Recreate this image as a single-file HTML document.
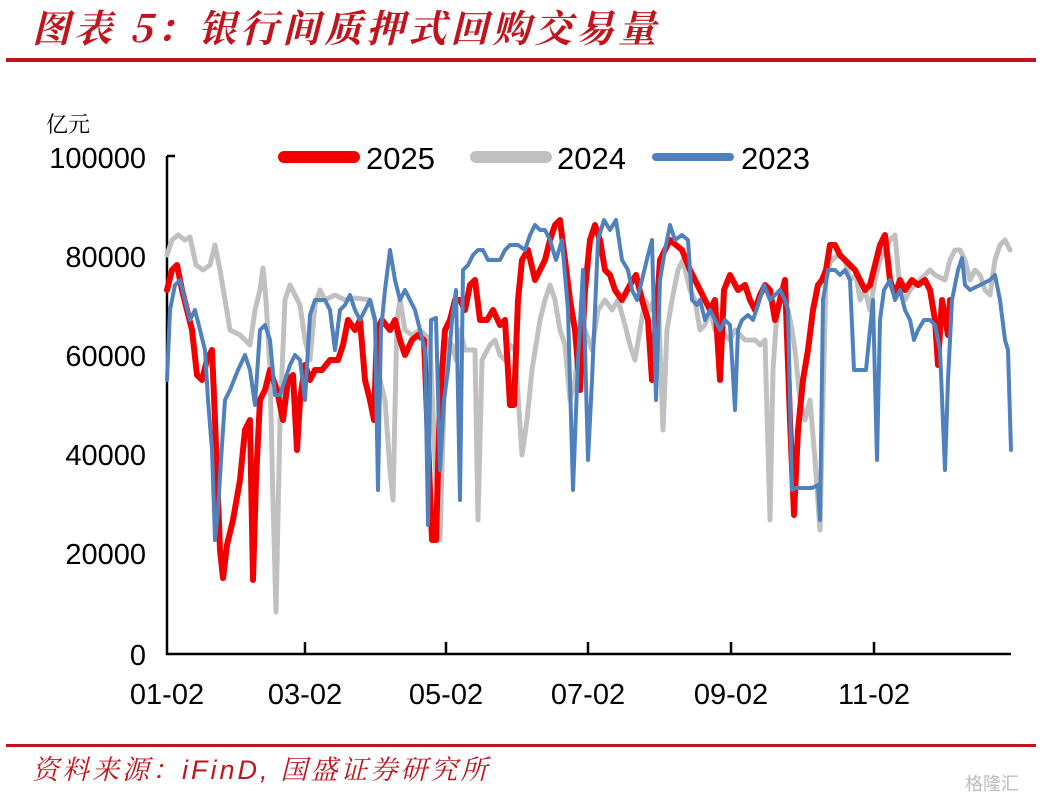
<!DOCTYPE html>
<html><head><meta charset="utf-8"><style>
html,body{margin:0;padding:0;background:#fff;width:1050px;height:804px;overflow:hidden}
</style></head><body>
<svg width="1050" height="804" xmlns="http://www.w3.org/2000/svg" font-family="'Liberation Sans','Noto Sans CJK SC',sans-serif">
<text x="32" y="42" font-size="38" fill="#c0141e" font-style="italic" letter-spacing="4" font-family="'Noto Serif CJK SC','Noto Sans CJK SC',serif" font-weight="bold">图表 5：银行间质押式回购交易量</text>
<rect x="6" y="58" width="1030" height="4" fill="#c0141e"/>
<text x="46" y="132" font-size="22" fill="#000" font-family="'Noto Serif CJK SC',serif">亿元</text>
<g font-size="29" fill="#000" text-anchor="end" transform="scale(1,1)">
<text x="146" y="168">100000</text>
<text x="146" y="267">80000</text>
<text x="146" y="366">60000</text>
<text x="146" y="465">40000</text>
<text x="146" y="564">20000</text>
<text x="146" y="665">0</text>
</g>
<g font-size="29" fill="#000" text-anchor="middle">
<text x="167" y="704">01-02</text>
<text x="305" y="704">03-02</text>
<text x="446" y="704">05-02</text>
<text x="588" y="704">07-02</text>
<text x="731" y="704">09-02</text>
<text x="874" y="704">11-02</text>
</g>
<g stroke="#000" stroke-width="2.5" fill="none">
<path d="M167,156 V654 H1011"/>
<path d="M167,156 h8"/>
<path d="M305,654 v-12 M446,654 v-12 M588,654 v-12 M731,654 v-12 M874,654 v-12"/>
</g>
<g fill="none" stroke-linejoin="round" stroke-linecap="round">
<polyline stroke="#c0c0c0" stroke-width="5" points="167,255 172,240 178,235 185,240 190,237 196,265 203,270 210,265 215,245 220,270 225,300 230,330 240,335 250,345 255,310 260,290 263,268 266,300 270,370 273,500 276,612 280,420 285,300 290,285 295,295 300,305 305,340 310,360 315,305 320,290 325,300 335,295 345,300 355,298 370,300 375,320 380,380 385,400 390,470 393,500 397,320 400,300 405,330 412,335 420,330 430,340 435,460 440,540 444,400 448,340 452,345 456,360 460,330 465,350 475,350 478,520 482,360 490,345 495,340 500,355 505,360 510,345 515,350 522,455 527,420 532,370 540,320 545,300 550,285 555,300 560,330 565,345 570,400 575,380 580,330 585,330 592,350 598,310 605,300 612,310 618,300 625,325 630,345 635,360 640,330 645,300 650,310 658,290 663,430 667,330 672,300 678,270 683,260 690,290 695,300 700,330 705,325 710,310 715,330 720,320 725,335 730,340 735,330 745,340 755,340 760,345 765,340 770,520 773,370 776,325 780,295 784,300 788,310 792,330 795,350 800,400 805,420 810,400 815,460 820,530 823,400 826,280 830,262 838,255 845,260 850,280 856,275 860,300 865,290 870,310 875,280 880,260 885,250 890,240 895,235 900,290 905,300 910,290 915,285 920,280 930,270 935,275 945,280 950,260 955,250 960,250 965,260 970,280 975,270 980,275 985,290 990,295 995,260 1000,245 1005,240 1010,250"/>
<polyline stroke="#f20000" stroke-width="6" points="167,290 172,270 177,265 182,290 187,310 192,330 197,375 202,380 207,360 212,350 215,420 220,550 223,578 227,545 233,520 240,480 245,430 250,420 253,580 256,480 260,400 265,390 270,370 277,390 283,420 288,380 293,375 297,450 300,400 305,365 310,380 315,370 322,370 330,360 338,360 343,345 348,320 355,330 360,320 365,380 370,400 374,420 377,330 382,320 390,330 395,320 400,340 405,355 412,340 418,335 424,340 428,440 432,540 436,540 440,400 445,330 450,320 455,300 460,300 465,310 470,285 475,280 480,320 487,320 493,310 500,325 505,320 510,405 514,405 518,300 522,260 528,250 535,280 540,270 545,260 550,240 555,225 560,220 565,260 570,300 575,330 580,390 585,290 590,240 595,225 600,240 605,270 610,275 615,290 622,300 630,285 636,275 642,300 648,320 652,380 656,320 660,260 665,250 670,240 676,245 682,250 690,270 695,280 700,290 705,300 710,310 715,300 720,380 724,290 730,275 738,290 745,285 750,300 755,310 760,295 765,285 770,290 775,320 780,300 785,280 790,420 794,515 798,430 803,380 808,350 813,310 818,285 822,280 826,270 830,245 835,245 840,255 845,260 850,265 855,270 860,280 865,290 870,285 875,265 880,245 885,235 890,280 895,295 900,280 905,290 912,280 918,285 925,280 930,290 935,320 938,365 942,300 948,335 950,300"/>
<polyline stroke="#4f81bd" stroke-width="4" points="167,380 170,310 175,285 180,280 185,300 190,320 195,310 200,330 205,350 208,400 212,450 215,540 218,510 221,460 225,400 230,390 238,370 245,355 250,370 255,405 260,330 265,325 270,340 275,395 280,395 285,380 290,365 295,355 300,360 305,400 310,315 315,300 320,300 325,300 330,310 335,350 340,310 345,305 350,295 355,310 360,320 365,310 370,300 375,320 378,490 381,330 385,290 390,250 395,280 400,300 405,290 410,300 415,310 420,330 425,350 428,525 431,320 436,318 440,470 444,400 448,370 452,320 456,290 460,500 463,270 468,265 473,255 478,250 483,250 488,260 495,260 500,260 505,250 510,245 518,245 525,250 530,235 535,225 540,230 545,230 550,240 556,260 562,240 568,310 573,490 578,360 583,270 588,460 592,380 598,240 604,220 610,230 616,220 622,260 628,270 632,290 637,300 642,280 648,255 652,240 656,400 660,280 665,250 670,225 675,240 682,235 688,240 692,300 697,305 700,300 705,320 710,310 715,320 720,330 725,320 730,325 735,410 738,330 742,320 748,315 753,320 758,305 764,285 770,300 775,295 780,290 785,300 788,310 792,490 796,488 805,488 812,488 818,485 820,520 823,300 828,270 835,270 840,275 845,270 850,280 854,370 860,370 866,370 870,330 873,300 877,460 880,320 884,290 890,280 895,300 900,290 905,310 910,320 914,340 918,330 924,320 930,320 935,325 940,350 945,470 948,380 952,300 958,270 962,258 965,285 970,290 980,285 990,280 995,275 1000,300 1005,340 1008,350 1011,450"/>
</g>
<rect x="278" y="151" width="82" height="12" rx="6" fill="#f20000"/>
<text x="366" y="169" font-size="31">2025</text>
<rect x="470" y="151" width="82" height="12" rx="6" fill="#c0c0c0"/>
<text x="557" y="169" font-size="31">2024</text>
<rect x="652" y="153" width="82" height="8" rx="4" fill="#4f81bd"/>
<text x="741" y="169" font-size="31">2023</text>
<rect x="6" y="744" width="1030" height="3" fill="#c0141e"/>
<text x="32" y="779" font-size="27" fill="#c0141e" font-style="italic" letter-spacing="3" font-family="'Noto Serif CJK SC',serif">资料来源：<tspan font-family="'Liberation Sans',sans-serif">iFinD,</tspan> 国盛证券研究所</text>
<text x="965" y="790" font-size="18" fill="#bbb">格隆汇</text>
</svg>
</body></html>
